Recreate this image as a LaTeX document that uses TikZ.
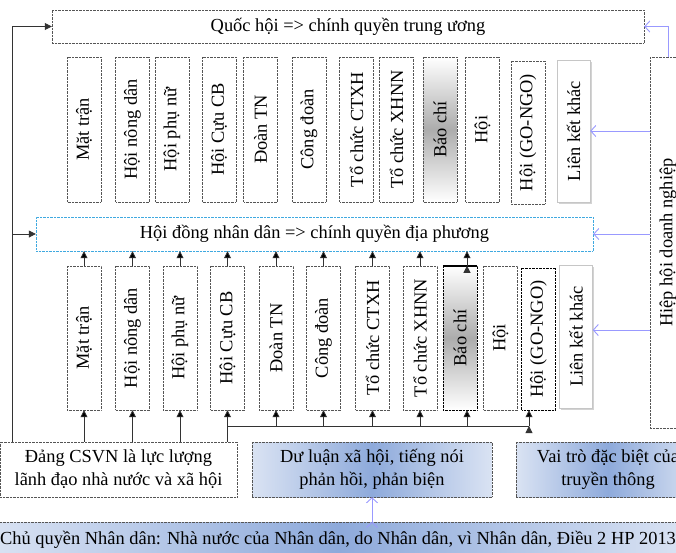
\documentclass[tikz,border=0pt]{standalone}
\usepackage{fontspec}
\setmainfont{Liberation Serif}
\usetikzlibrary{arrows.meta,shadows}
\definecolor{bluel}{HTML}{DAE3F3}
\definecolor{blued}{HTML}{8EAADB}
\definecolor{arrblue}{HTML}{9999FF}
\definecolor{dotgray}{HTML}{555555}
\definecolor{hdblue}{HTML}{3FA9E0}
\begin{document}
\begin{tikzpicture}[x=1pt,y=-1pt,
		txt/.style={font=\fontsize{18.4}{23}\selectfont},
		dotbox/.style={txt,draw=dotgray,densely dotted,inner sep=0pt,align=center},
		org/.style={dotbox,rotate=90,minimum width=145,minimum height=34},
		orgb/.style={org,minimum width=144},
		shadedbox/.style={top color=white,bottom color=white,middle color=gray!65},
		lkbox/.style={txt,rotate=90,draw=gray!45,fill=white,inner sep=0pt,minimum width=142,minimum height=33,
			drop shadow={shadow xshift=1.5pt,shadow yshift=-1.5pt,opacity=0.35}},
		bluebox/.style={dotbox,left color=bluel,right color=bluel,middle color=blued},
		arr/.style={draw=black!80,line width=0.8pt,-{Triangle[length=7pt,width=7pt]}},
		line/.style={draw=black!80,line width=0.8pt},
		barr/.style={draw=arrblue,line width=0.9pt,-{Straight Barb[length=5pt,width=11pt]}}]
	\clip (0,0) rectangle (676,552);

	\node (qh) at (348,26.5) [dotbox,minimum width=592,minimum height=33] {Quốc hội => chính quyền trung ương};
	\node (hdnd) at (314.5,234) [dotbox,draw=hdblue,minimum width=557,minimum height=34] {Hội đồng nhân dân => chính quyền địa phương};
	\node (hh) at (668,242.5) [dotbox,rotate=90,minimum width=371,minimum height=36] {Hiệp hội doanh nghiệp};

	\node (t1) at (84,129.5) [org] {Mặt trận};
	\node (t2) at (132.5,129.5) [org] {Hội nông dân};
	\node (t3) at (172,129.5) [org] {Hội phụ nữ};
	\node (t4) at (219,129.5) [org] {Hội Cựu CB};
	\node (t5) at (260.5,129.5) [org] {Đoàn TN};
	\node (t6) at (309,129.5) [org] {Công đoàn};
	\node (t7) at (356.5,129.5) [org] {Tổ chức CTXH};
	\node (t8) at (396.5,129.5) [org] {Tổ chức XHNN};
	\node (t9) at (440,129.5) [org,shadedbox] {Báo chí};
	\node (t10) at (482.5,129.5) [org] {Hội};
	\node (t11) at (528,132.5) [org,minimum width=143] {Hội (GO-NGO)};
	\node (t12) at (573.5,131) [lkbox] {Liên kết khác};

	\node (b1) at (84,338) [orgb] {Mặt trận};
	\node (b2) at (132.5,338) [orgb] {Hội nông dân};
	\node (b3) at (180,338) [orgb] {Hội phụ nữ};
	\node (b4) at (227.5,338) [orgb] {Hội Cựu CB};
	\node (b5) at (276,338) [orgb] {Đoàn TN};
	\node (b6) at (323.5,338) [orgb] {Công đoàn};
	\node (b7) at (372.5,338) [orgb] {Tổ chức CTXH};
	\node (b8) at (420,338) [orgb] {Tổ chức XHNN};
	\node (b9) at (460,338) [orgb,shadedbox,draw=black] {Báo chí};
	\node (b10) at (500.5,338) [orgb] {Hội};
	\node (b11) at (538.5,339) [orgb,draw=black,minimum width=142] {Hội (GO-NGO)};
	\node (b12) at (576,336.5) [lkbox,minimum width=143] {Liên kết khác};
	\draw[line width=2pt] (b9.north east) -- (b9.south east);

	\node (dang) at (118.5,469.5) [dotbox,minimum width=237,minimum height=55] {Đảng CSVN là lực lượng\\lãnh đạo nhà nước và xã hội};
	\node (dl) at (372,469.5) [bluebox,minimum width=240,minimum height=55] {Dư luận xã hội, tiếng nói\\phản hồi, phản biện};
	\node (vt) at (608,469.5) [bluebox,minimum width=184,minimum height=55] {Vai trò đặc biệt của\\truyền thông};
	\node (cq) at (338,540) [bluebox,minimum width=700,minimum height=36] {Chủ quyền Nhân dân: Nhà nước của Nhân dân, do Nhân dân, vì Nhân dân, Điều 2 HP 2013};

	\coordinate (lbot) at (12,442);
	\coordinate (fork) at (529,426);
	\coordinate (bc1) at ([xshift=7pt]b9.west);
	\coordinate (bc2) at ([xshift=7pt]b9.east);
	\coordinate (go) at ([xshift=-9.5pt]b11.west);
	\coordinate (lk) at ([yshift=6.5pt]b12.south);

	\draw[arr] (lbot) |- (qh.west);
	\draw[arr] (lbot |- hdnd.west) -- (hdnd.west);
	\draw[line] (b4.west |- fork) -- (fork);

	\draw[arr]
	(b1.east) edge (b1.east |- hdnd.south)
	(b2.east) edge (b2.east |- hdnd.south)
	(b3.east) edge (b3.east |- hdnd.south)
	(b4.east) edge (b4.east |- hdnd.south)
	(b5.east) edge (b5.east |- hdnd.south)
	(b6.east) edge (b6.east |- hdnd.south)
	(b7.east) edge (b7.east |- hdnd.south)
	(b8.east) edge (b8.east |- hdnd.south)
	(bc2) edge (bc2 |- hdnd.south)
	;
	\draw[arr]
	(b1.west |- dang.north) edge (b1.west)
	(b2.west |- dang.north) edge (b2.west)
	(b3.west |- dang.north) edge (b3.west)
	(b4.west |- dang.north) edge (b4.west)
	(b5.west |- fork) edge (b5.west)
	(b6.west |- fork) edge (b6.west)
	(b7.west |- fork) edge (b7.west)
	(b8.west |- fork) edge (b8.west)
	(bc1 |- fork) edge (bc1)
	(fork) edge (go)
	;

	\draw[barr] (hh.east) |- (qh.east);
	\draw[barr]
	(hh.north |- t12.south) edge (t12.south)
	(hh.north |- hdnd.east) edge (hdnd.east)
	(hh.north |- lk) edge (lk)
	(dl.south |- cq.north) edge (dl.south)
	;
\end{tikzpicture}
\end{document}
